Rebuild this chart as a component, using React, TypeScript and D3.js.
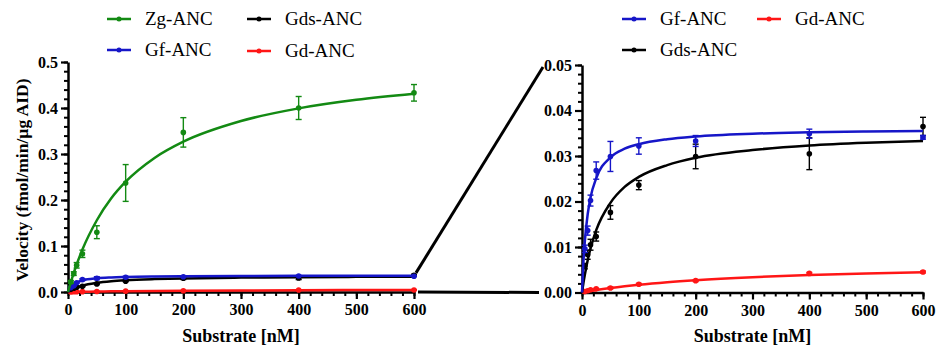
// 酶动力学图：左边全量程，右边放大
import React, { useRef, useEffect } from 'react';
import * as d3 from 'd3';

// 底物浓度 (nM)
const conc = [5, 10, 15, 25, 50, 100, 200, 400, 600];

// 平均值与误差
const zgMean = [0.022, 0.040, 0.058, 0.083, 0.130, 0.237, 0.347, 0.400, 0.433];
const zgErr = [0.003, 0.004, 0.006, 0.008, 0.014, 0.040, 0.032, 0.025, 0.018];
const gfMean = [0.0096, 0.0136, 0.0202, 0.0268, 0.0299, 0.0322, 0.0333, 0.0349, 0.0341];
const gfErr = [0.0008, 0.0010, 0.0012, 0.0019, 0.0033, 0.0018, 0.0012, 0.0010, 0.0004];
const gdsMean = [0.0058, 0.0083, 0.0105, 0.0123, 0.0176, 0.0236, 0.0299, 0.0305, 0.0365];
const gdsErr = [0.0006, 0.0010, 0.0012, 0.0010, 0.0015, 0.0010, 0.0027, 0.0035, 0.0020];
const gdMean = [0.0002, 0.0004, 0.0006, 0.0008, 0.0010, 0.0018, 0.0026, 0.0042, 0.0045];
const gdErr = [0.0001, 0.0001, 0.0001, 0.0001, 0.0002, 0.0002, 0.0002, 0.0002, 0.0002];

// 拟合曲线
const fitX = [0, 2.5, 5, 10, 15, 25, 50, 75, 100, 150, 200, 300, 400, 500, 600];
const zgFit = [0, 0.011, 0.0216, 0.0414, 0.0597, 0.0923, 0.156, 0.2036, 0.2397, 0.2915, 0.3268, 0.3717, 0.3992, 0.4178, 0.4311];
const gfFit = [0, 0.0067, 0.0113, 0.0172, 0.0209, 0.0251, 0.0297, 0.0316, 0.0326, 0.0337, 0.0343, 0.0349, 0.0352, 0.0354, 0.0355];
const gdsFit = [0, 0.0021, 0.0039, 0.0071, 0.0097, 0.0137, 0.0197, 0.0232, 0.0254, 0.028, 0.0296, 0.0313, 0.0323, 0.0329, 0.0333];
const gdFit = [0, 0.00006, 0.00011, 0.00022, 0.00033, 0.00053, 0.00098, 0.00137, 0.00171, 0.00227, 0.00271, 0.00336, 0.00382, 0.00417, 0.00443];

const xTicks = [0, 100, 200, 300, 400, 500, 600];
const yTicksLeft = [0, 0.1, 0.2, 0.3, 0.4, 0.5];
const yTicksRight = [0, 0.01, 0.02, 0.03, 0.04, 0.05];

interface Series {
  name: string;
  color: string;
  mean: number[];
  err: number[];
  fit: number[];
}

const GREEN = '#138a13';
const BLUE = '#1616c8';
const RED = '#ff1616';
const BLACK = '#000000';

const zg: Series = { name: 'Zg-ANC', color: GREEN, mean: zgMean, err: zgErr, fit: zgFit };
const gf: Series = { name: 'Gf-ANC', color: BLUE, mean: gfMean, err: gfErr, fit: gfFit };
const gds: Series = { name: 'Gds-ANC', color: BLACK, mean: gdsMean, err: gdsErr, fit: gdsFit };
const gd: Series = { name: 'Gd-ANC', color: RED, mean: gdMean, err: gdErr, fit: gdFit };

const width = 936;
const height = 347;
const FONT = '"Liberation Serif", "DejaVu Serif", serif';

const App: React.FC = () => {
  const svgRef = useRef<SVGSVGElement>(null);

  useEffect(() => {
    if (!svgRef.current) return;
    const svg = d3.select(svgRef.current);
    svg.selectAll('*').remove();

    const xL = d3.scaleLinear().domain([0, 600]).range([68, 414]);
    const yL = d3.scaleLinear().domain([0, 0.5]).range([292, 62]);
    const xR = d3.scaleLinear().domain([0, 600]).range([582, 923]);
    const yR = d3.scaleLinear().domain([0, 0.05]).range([292.5, 65]);

    const drawAxes = (
      x: d3.ScaleLinear<number, number>,
      y: d3.ScaleLinear<number, number>,
      yTicks: number[],
      yFmt: string,
      minorY: number
    ) => {
      const g = svg.append('g');
      // 次刻度
      const minorX = d3.range(0, 601, 20);
      const minorYs = d3.range(0, y.domain()[1] + minorY / 2, minorY);
      g.append('g')
        .attr('transform', `translate(0,${y(0)})`)
        .call(d3.axisBottom(x).tickValues(minorX).tickSize(4).tickSizeOuter(0).tickFormat(() => ''))
        .call((a) => a.select('.domain').remove())
        .call((a) => a.selectAll('line').attr('stroke-width', 2));
      g.append('g')
        .attr('transform', `translate(${x(0)},0)`)
        .call(d3.axisLeft(y).tickValues(minorYs).tickSize(4).tickSizeOuter(0).tickFormat(() => ''))
        .call((a) => a.select('.domain').remove())
        .call((a) => a.selectAll('line').attr('stroke-width', 2));
      // 主刻度
      g.append('g')
        .attr('transform', `translate(0,${y(0)})`)
        .call(d3.axisBottom(x).tickValues(xTicks).tickSize(7).tickSizeOuter(0).tickPadding(5).tickFormat(d3.format('d')))
        .call((a) => a.select('.domain').attr('stroke-width', 2.5))
        .call((a) => a.selectAll('line').attr('stroke-width', 2.2))
        .call((a) => a.selectAll('text').style('font-size', '16px').style('font-weight', 'bold').style('font-family', FONT).attr('fill', '#000'));
      g.append('g')
        .attr('transform', `translate(${x(0)},0)`)
        .call(d3.axisLeft(y).tickValues(yTicks).tickSize(7).tickSizeOuter(0).tickPadding(3).tickFormat(d3.format(yFmt)))
        .call((a) => a.select('.domain').attr('stroke-width', 2.5))
        .call((a) => a.selectAll('line').attr('stroke-width', 2.2))
        .call((a) => a.selectAll('text').style('font-size', '16px').style('font-weight', 'bold').style('font-family', FONT).attr('fill', '#000'));
      // x 轴标题
      g.append('text')
        .attr('x', (x.range()[0] + x.range()[1]) / 2)
        .attr('y', 342)
        .attr('text-anchor', 'middle')
        .style('font-family', FONT)
        .style('font-weight', 'bold')
        .style('font-size', '18px')
        .text('Substrate [nM]');
    };

    const drawSeries = (
      s: Series,
      x: d3.ScaleLinear<number, number>,
      y: d3.ScaleLinear<number, number>
    ) => {
      const g = svg.append('g');
      const line = d3.line<number>()
        .x((_, i) => x(fitX[i]))
        .y((d) => y(d))
        .curve(d3.curveMonotoneX);
      g.append('path')
        .attr('d', line(s.fit))
        .attr('fill', 'none')
        .attr('stroke', s.color)
        .attr('stroke-width', 2.5);
      // 误差棒
      conc.forEach((c, i) => {
        const cx = x(c);
        const top = y(s.mean[i] + s.err[i]);
        const bot = y(s.mean[i] - s.err[i]);
        g.append('line').attr('x1', cx).attr('x2', cx).attr('y1', top).attr('y2', bot)
          .attr('stroke', s.color).attr('stroke-width', 1.4);
        [top, bot].forEach((yy) => {
          g.append('line').attr('x1', cx - 3).attr('x2', cx + 3).attr('y1', yy).attr('y2', yy)
            .attr('stroke', s.color).attr('stroke-width', 1.4);
        });
      });
      g.selectAll('circle')
        .data(s.mean)
        .join('circle')
        .attr('cx', (_, i) => x(conc[i]))
        .attr('cy', (d) => y(d))
        .attr('r', 2.8)
        .attr('fill', s.color);
    };

    const drawLegend = (items: { s: Series; x: number; y: number }[]) => {
      const g = svg.append('g');
      items.forEach(({ s, x, y }) => {
        g.append('line').attr('x1', x).attr('x2', x + 24).attr('y1', y).attr('y2', y)
          .attr('stroke', s.color).attr('stroke-width', 2.5);
        g.append('circle').attr('cx', x + 12).attr('cy', y).attr('r', 2.5).attr('fill', s.color);
        g.append('text')
          .attr('x', x + 38)
          .attr('y', y + 6)
          .style('font-family', FONT)
          .style('font-size', '19px')
          .text(s.name);
      });
    };

    // 左图
    drawAxes(xL, yL, yTicksLeft, '.1f', 0.02);
    [gd, gds, gf, zg].forEach((s) => drawSeries(s, xL, yL));
    svg.append('text')
      .attr('transform', `translate(22,${(yL(0) + yL(0.5)) / 2 + 3}) rotate(-90)`)
      .attr('text-anchor', 'middle')
      .attr('dy', '0.35em')
      .style('font-family', FONT)
      .style('font-weight', 'bold')
      .style('font-size', '17.5px')
      .text('Velocity (fmol/min/µg AID)');
    drawLegend([
      { s: zg, x: 107, y: 19 },
      { s: gds, x: 247, y: 19 },
      { s: gf, x: 107, y: 50 },
      { s: gd, x: 247, y: 51 },
    ]);

    // 右图
    drawAxes(xR, yR, yTicksRight, '.2f', 0.002);
    [gd, gds, gf].forEach((s) => drawSeries(s, xR, yR));
    drawLegend([
      { s: gf, x: 622, y: 19 },
      { s: gd, x: 757, y: 19 },
      { s: gds, x: 622, y: 50 },
    ]);

    // 放大连接线
    svg.append('line')
      .attr('x1', xL(600) + 2).attr('y1', yL(0.035) - 3)
      .attr('x2', xR(0) - 39).attr('y2', yR(0.05) + 2)
      .attr('stroke', '#000').attr('stroke-width', 3);
    svg.append('line')
      .attr('x1', xL(600) + 4).attr('y1', yL(0))
      .attr('x2', xR(0) - 43).attr('y2', yR(0))
      .attr('stroke', '#000').attr('stroke-width', 3);
  }, []);

  return (
    <svg
      ref={svgRef}
      width={width}
      height={height}
      style={{ position: 'absolute', left: 0, top: 0, background: '#fff' }}
    />
  );
};

export default App;
